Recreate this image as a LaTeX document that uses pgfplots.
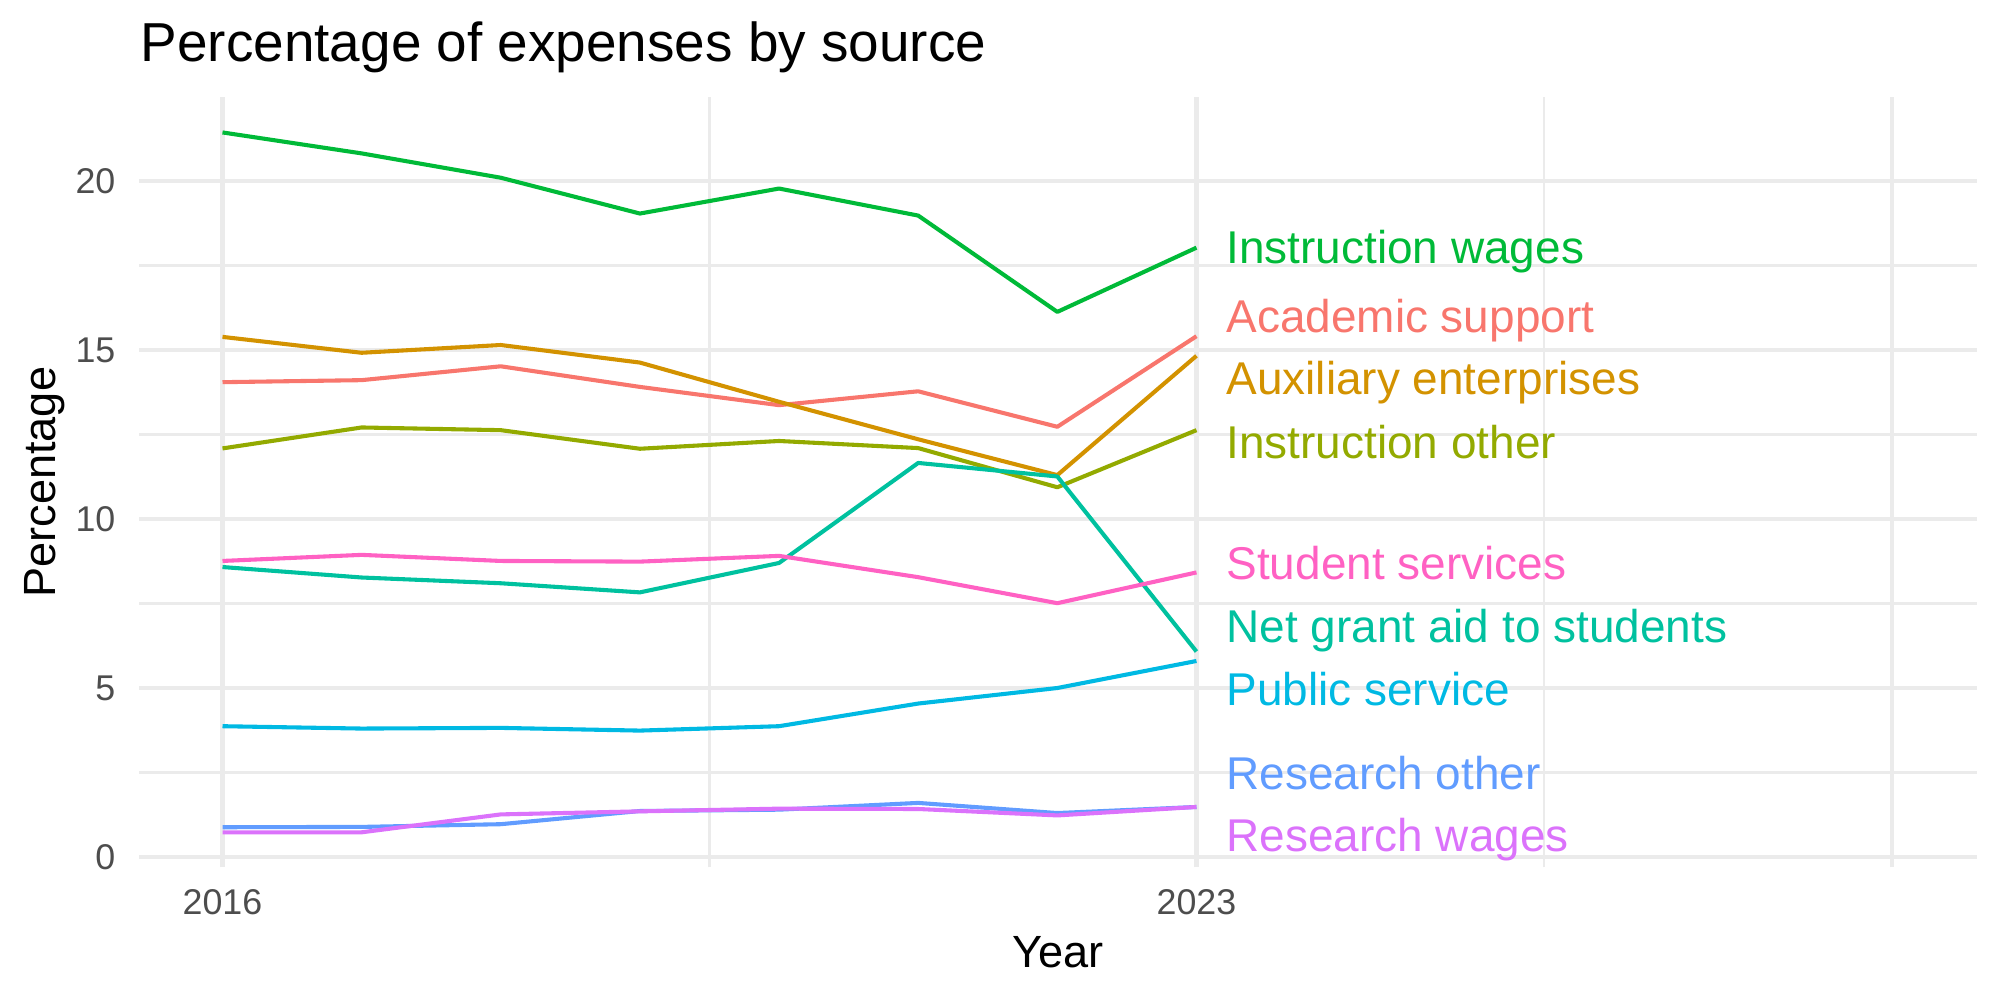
\documentclass[border=0pt]{standalone}
\usepackage{pgfplots}
\usepackage{pgfplotstable}
\pgfplotsset{compat=1.18}
\usepackage{fontspec}
\setmainfont{Liberation Sans}

\definecolor{cAcad}{HTML}{F8766D}
\definecolor{cAux}{HTML}{D39200}
\definecolor{cInOth}{HTML}{93AA00}
\definecolor{cInWag}{HTML}{00BA38}
\definecolor{cGrant}{HTML}{00C19F}
\definecolor{cPub}{HTML}{00B9E3}
\definecolor{cResOth}{HTML}{619CFF}
\definecolor{cResWag}{HTML}{DB72FB}
\definecolor{cStud}{HTML}{FF61C3}
\definecolor{gridgray}{HTML}{EBEBEB}
\definecolor{ticktext}{HTML}{4D4D4D}

% Share of expenses (%) by source and year
\pgfplotstableread{
year acad  aux   inoth inwag grant pub  resoth reswag stud
2016 14.05 15.39 12.09 21.44 8.58  3.87 0.88   0.73   8.76
2017 14.11 14.92 12.71 20.82 8.27  3.80 0.89   0.73   8.94
2018 14.52 15.15 12.63 20.10 8.10  3.82 0.97   1.26   8.76
2019 13.91 14.63 12.08 19.04 7.83  3.74 1.36   1.35   8.74
2020 13.37 13.47 12.31 19.78 8.70  3.87 1.40   1.43   8.91
2021 13.78 12.36 12.10 18.98 11.66 4.54 1.60   1.42   8.28
2022 12.73 11.30 10.94 16.13 11.26 5.00 1.30   1.23   7.51
2023 15.41 14.83 12.63 18.03 6.08  5.80 1.48   1.48   8.42
}\expenses

\begin{document}
\begin{tikzpicture}[x=1bp,y=1bp]
\useasboundingbox (0,0) rectangle (490,244.9);
\begin{axis}[
  at={(34.06bp,32.41bp)}, anchor=south west,
  scale only axis, width=450.3bp, height=188.65bp,
  xmin=2015.40, xmax=2028.61, ymin=-0.306, ymax=22.48,
  axis line style={draw=none}, major tick length=0pt, minor tick length=0pt,
  xtick={2016,2023,2028}, xticklabels={2016,2023,{}},
  minor xtick={2019.5,2025.5},
  ytick={0,5,10,15,20}, minor ytick={2.5,7.5,12.5,17.5},
  grid=both,
  major grid style={draw=gridgray, line width=1.1bp},
  minor grid style={draw=gridgray, line width=0.55bp},
  /pgf/number format/assume math mode=true,
  x tick label style={font=\fontsize{8.8}{10}\selectfont, text=ticktext, anchor=base, inner sep=0pt, yshift=-11.6bp},
  y tick label style={font=\fontsize{8.8}{10}\selectfont, text=ticktext, anchor=base east, inner sep=0pt, xshift=-5.6bp, yshift=-3.15bp},
  every axis plot/.append style={line width=1.0bp, line join=round, no markers},
  clip=false,
]
\addplot[cAcad]   table[x=year, y=acad]   {\expenses};
\addplot[cAux]    table[x=year, y=aux]    {\expenses};
\addplot[cInOth]  table[x=year, y=inoth]  {\expenses};
\addplot[cInWag]  table[x=year, y=inwag]  {\expenses};
\addplot[cGrant]  table[x=year, y=grant]  {\expenses};
\addplot[cPub]    table[x=year, y=pub]    {\expenses};
\addplot[cResOth] table[x=year, y=resoth] {\expenses};
\addplot[cResWag] table[x=year, y=reswag] {\expenses};
\addplot[cStud]   table[x=year, y=stud]   {\expenses};

% direct labels at the right end of each series
\begin{scope}[every node/.style={anchor=base west, inner sep=0pt, font=\fontsize{11.3}{13}\selectfont}]
\node[text=cInWag]  at (axis cs:2023.21,17.55) {Instruction wages};
\node[text=cAcad]   at (axis cs:2023.21,15.51) {Academic support};
\node[text=cAux]    at (axis cs:2023.21,13.70) {Auxiliary enterprises};
\node[text=cInOth]  at (axis cs:2023.21,11.78) {Instruction other};
\node[text=cStud]   at (axis cs:2023.21,8.22)  {Student services};
\node[text=cGrant]  at (axis cs:2023.21,6.34)  {Net grant aid to students};
\node[text=cPub]    at (axis cs:2023.21,4.49)  {Public service};
\node[text=cResOth] at (axis cs:2023.21,1.99)  {Research other};
\node[text=cResWag] at (axis cs:2023.21,0.15)  {Research wages};
\end{scope}
\end{axis}

% title and axis titles
\node[anchor=base west, inner sep=0pt, font=\fontsize{13.5}{15}\selectfont] at (34.3,229.9) {Percentage of expenses by source};
\node[anchor=base, inner sep=0pt, font=\fontsize{11.1}{13}\selectfont] at (259.2,7.84) {Year};
\node[anchor=base, rotate=90, inner sep=0pt, font=\fontsize{11.1}{13}\selectfont] at (13.48,126.74) {Percentage};
\end{tikzpicture}
\end{document}
